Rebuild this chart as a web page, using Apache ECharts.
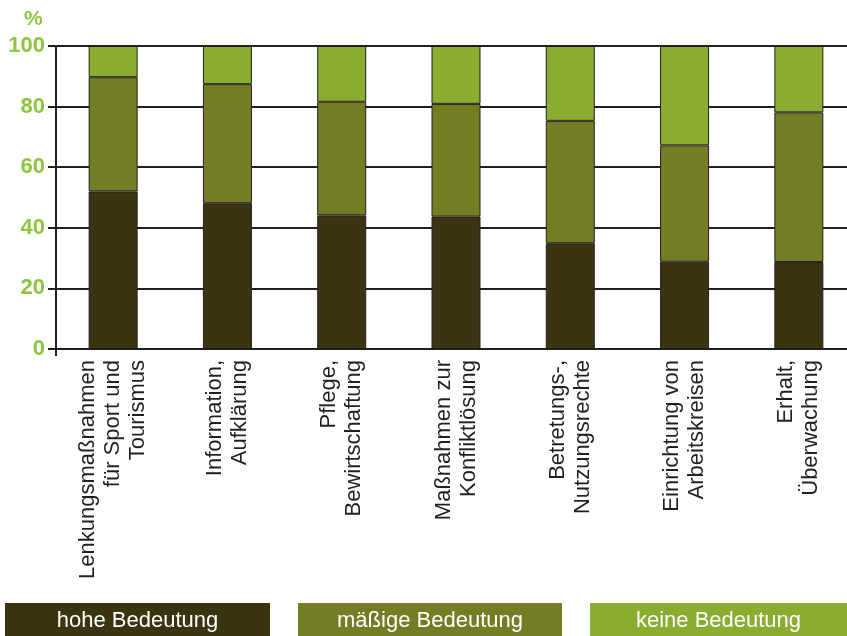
<!DOCTYPE html>
<html>
<head>
<meta charset="utf-8">
<script src="https://cdn.jsdelivr.net/npm/echarts@6/dist/echarts.min.js"></script>
<style>
html,body{margin:0;padding:0;background:#fff;overflow:hidden;width:847px;height:636px;}
#c{width:870px;height:636px;}
</style>
</head>
<body>
<div id="c"></div>
<script>
var categories = [
  'Lenkungsmaßnahmen\nfür Sport und\nTourismus',
  'Information,\nAufklärung',
  'Pflege,\nBewirtschaftung',
  'Maßnahmen zur\nKonfliktlösung',
  'Betretungs-,\nNutzungsrechte',
  'Einrichtung von\nArbeitskreisen',
  'Erhalt,\nÜberwachung'
];
var seriesNames = ['hohe Bedeutung', 'mäßige Bedeutung', 'keine Bedeutung'];
var hohe   = [52.0, 48.1, 44.1, 43.7, 34.9, 28.8, 28.7];
var maessig = [37.7, 39.3, 37.5, 37.2, 40.4, 38.4, 49.4];
var keine  = [10.3, 12.6, 18.4, 19.1, 24.7, 32.8, 21.9];
var yTicks = [0, 20, 40, 60, 80, 100];
var colors = ['#3a3410', '#757d24', '#8aac30'];
var FONT = 'Liberation Sans';

var chart = echarts.init(document.getElementById('c'));
var dataSets = [hohe, maessig, keine];
var series = seriesNames.map(function (n, i) {
  return {
    name: n,
    type: 'bar',
    stack: 'total',
    barWidth: 49,
    data: dataSets[i],
    itemStyle: { color: colors[i], borderColor: '#231f20', borderWidth: 1 },
    z: 3
  };
});

var legendX = [5, 298, 590];
var legendW = [265, 264, 257];
var graphics = [{
  type: 'text', left: 24, top: 9,
  style: { text: '%', fill: '#8dc53e', fontSize: 21, fontWeight: 'bold', fontFamily: FONT }
}];
seriesNames.forEach(function (n, i) {
  graphics.push({
    type: 'rect', left: legendX[i], top: 603,
    shape: { width: legendW[i], height: 33 },
    style: { fill: colors[i] }
  });
  graphics.push({
    type: 'text', x: legendX[i] + legendW[i] / 2, y: 621,
    style: { text: n, fill: '#ffffff', fontSize: 22, fontFamily: FONT, align: 'center', verticalAlign: 'middle' }
  });
});

chart.setOption({
  animation: false,
  backgroundColor: '#ffffff',
  grid: { left: 56, top: 46, height: 303, width: 800, containLabel: false },
  xAxis: {
    type: 'category',
    data: categories,
    axisLine: { lineStyle: { color: '#231f20', width: 2 } },
    axisTick: { show: true, length: 7, interval: function (i) { return i === 0; }, lineStyle: { color: '#231f20', width: 2 } },
    axisLabel: {
      rotate: 90, interval: 0, margin: 11,
      color: '#231f20', fontSize: 22, lineHeight: 25,
      fontFamily: FONT
    }
  },
  yAxis: {
    type: 'value', min: 0, max: 100, interval: 20,
    axisLine: { show: true, lineStyle: { color: '#231f20', width: 2 } },
    axisTick: { show: true, length: 8, lineStyle: { color: '#231f20', width: 2 } },
    splitLine: { lineStyle: { color: '#231f20', width: 2 } },
    axisLabel: {
      margin: 11, color: '#8dc53e', fontSize: 22, fontWeight: 'bold',
      fontFamily: FONT,
      formatter: function (v) { return yTicks.indexOf(v) >= 0 ? String(v) : ''; }
    }
  },
  series: series,
  graphic: graphics
});
</script>
</body>
</html>
